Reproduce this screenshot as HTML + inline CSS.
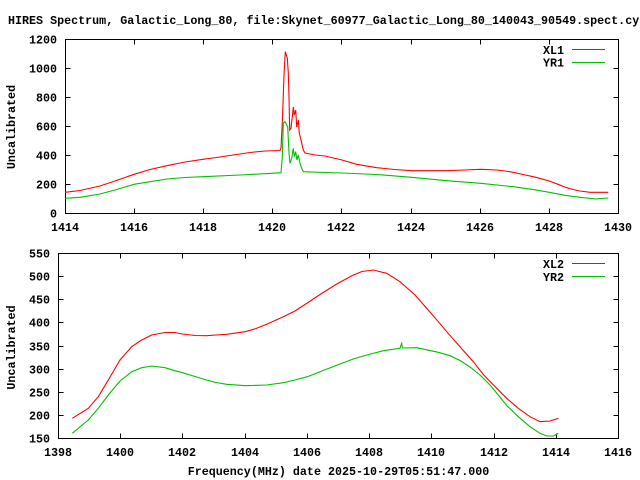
<!DOCTYPE html>
<html><head><meta charset="utf-8"><style>
html,body{margin:0;padding:0;background:#fff;}
svg{display:block;}
text{font-family:"Liberation Mono",monospace;font-weight:bold;font-size:11.7px;fill:#000;}
</style></head><body>
<svg width="640" height="480" viewBox="0 0 640 480" xmlns="http://www.w3.org/2000/svg">
<rect width="640" height="480" fill="#fff"/>
<text x="8" y="24">HIRES Spectrum, Galactic_Long_80, file:Skynet_60977_Galactic_Long_80_140043_90549.spect.cyb</text>

<!-- TOP PLOT -->
<g stroke="#000" stroke-width="1" fill="none" shape-rendering="crispEdges">
<rect x="65.5" y="39.5" width="553" height="174"/>
<path d="M65.5 213.5h5M618.5 213.5h-5M65.5 184.5h5M618.5 184.5h-5M65.5 155.5h5M618.5 155.5h-5M65.5 126.5h5M618.5 126.5h-5M65.5 97.5h5M618.5 97.5h-5M65.5 68.5h5M618.5 68.5h-5M65.5 39.5h5M618.5 39.5h-5"/>
<path d="M65.5 213.5v-5M65.5 39.5v5M134.5 213.5v-5M134.5 39.5v5M203.5 213.5v-5M203.5 39.5v5M272.5 213.5v-5M272.5 39.5v5M341.5 213.5v-5M341.5 39.5v5M411.5 213.5v-5M411.5 39.5v5M480.5 213.5v-5M480.5 39.5v5M549.5 213.5v-5M549.5 39.5v5M618.5 213.5v-5M618.5 39.5v5"/>
</g>
<g text-anchor="end">
<text x="57" y="217.5">0</text>
<text x="57" y="188.5">200</text>
<text x="57" y="159.5">400</text>
<text x="57" y="130.5">600</text>
<text x="57" y="101.5">800</text>
<text x="57" y="72.5">1000</text>
<text x="57" y="43.5">1200</text>
</g>
<g text-anchor="middle">
<text x="65" y="231">1414</text>
<text x="134" y="231">1416</text>
<text x="203" y="231">1418</text>
<text x="272" y="231">1420</text>
<text x="341" y="231">1422</text>
<text x="411" y="231">1424</text>
<text x="480" y="231">1426</text>
<text x="549" y="231">1428</text>
<text x="618" y="231">1430</text>
</g>
<text transform="translate(15,127) rotate(-90)" text-anchor="middle">Uncalibrated</text>
<text x="564" y="54" text-anchor="end">XL1</text>
<text x="564" y="66.5" text-anchor="end">YR1</text>
<line x1="572" y1="49.5" x2="605" y2="49.5" stroke="#ff0000" stroke-width="1"/>
<line x1="572" y1="62.5" x2="605" y2="62.5" stroke="#00c000" stroke-width="1"/>

<polyline fill="none" stroke="#ff0000" stroke-width="1.1" points="65,192.3 80,190.5 100,186 115,181 134,174.3 150,169.5 167,165.7 185,162 203,159.3 220,157 233,155 250,152.5 265,151 280,150.5 281,148 282.3,123 284,75 285.3,51.7 286.3,55 287.3,58 288.3,73 289,97 289.7,130 291,128 292.5,115 293.3,107 294.3,115 295.7,110 296.7,127 298.3,120 299.3,133 301,140 303.3,150 305,153 315,155 325,156 342,160 356.7,164.3 376.7,167.7 395,169.5 411.7,170.7 446.7,170.7 465,170 480.7,169.3 496.7,170 505,171 513.3,172.3 523,174.5 533.3,176.7 541,178.7 549.3,181 558,184.3 566.7,187.7 573,189.5 580,191 590,192.3 608.3,192.3"/>
<polyline fill="none" stroke="#00c000" stroke-width="1.1" points="65,198.3 80,197.3 100,194 115,190 134,184.3 150,181.7 167,179 185,177.5 203,176.7 240,175 272,173.3 281,172.7 282.3,156.7 283.3,123.3 285,121.7 286.7,125 287.7,126.7 289,153 290,163.3 291.7,158.3 293.3,148.3 294.3,156.7 295.7,151.7 297,160 298.3,155 300,163.3 301.7,168.3 303.3,171.7 325,172.5 342,173 376.7,174.5 411.7,177.3 446.7,180.7 480.7,183.3 513.3,186.7 532,189.3 549.3,192.3 565,195.3 580,197.3 596.7,199 600,198.5 608.3,198"/>

<!-- BOTTOM PLOT -->
<g stroke="#000" stroke-width="1" fill="none" shape-rendering="crispEdges">
<rect x="58.5" y="253.5" width="560" height="185"/>
<path d="M58.5 438.5h5M618.5 438.5h-5M58.5 415.5h5M618.5 415.5h-5M58.5 392.5h5M618.5 392.5h-5M58.5 369.5h5M618.5 369.5h-5M58.5 346.5h5M618.5 346.5h-5M58.5 322.5h5M618.5 322.5h-5M58.5 299.5h5M618.5 299.5h-5M58.5 276.5h5M618.5 276.5h-5M58.5 253.5h5M618.5 253.5h-5"/>
<path d="M58.5 438.5v-5M58.5 253.5v5M120.5 438.5v-5M120.5 253.5v5M182.5 438.5v-5M182.5 253.5v5M245.5 438.5v-5M245.5 253.5v5M307.5 438.5v-5M307.5 253.5v5M369.5 438.5v-5M369.5 253.5v5M431.5 438.5v-5M431.5 253.5v5M494.5 438.5v-5M494.5 253.5v5M556.5 438.5v-5M556.5 253.5v5M618.5 438.5v-5M618.5 253.5v5"/>
</g>
<g text-anchor="end">
<text x="50" y="442.5">150</text>
<text x="50" y="419.5">200</text>
<text x="50" y="396.5">250</text>
<text x="50" y="373.5">300</text>
<text x="50" y="350.5">350</text>
<text x="50" y="326.5">400</text>
<text x="50" y="303.5">450</text>
<text x="50" y="280.5">500</text>
<text x="50" y="257.5">550</text>
</g>
<g text-anchor="middle">
<text x="58" y="456">1398</text>
<text x="120" y="456">1400</text>
<text x="182" y="456">1402</text>
<text x="245" y="456">1404</text>
<text x="307" y="456">1406</text>
<text x="369" y="456">1408</text>
<text x="431" y="456">1410</text>
<text x="494" y="456">1412</text>
<text x="556" y="456">1414</text>
<text x="618" y="456">1416</text>
</g>
<text transform="translate(15,347.5) rotate(-90)" text-anchor="middle">Uncalibrated</text>
<text x="338.5" y="475" text-anchor="middle">Frequency(MHz) date 2025-10-29T05:51:47.000</text>
<text x="564" y="268" text-anchor="end">XL2</text>
<text x="564" y="281" text-anchor="end">YR2</text>
<line x1="572" y1="263.5" x2="605" y2="263.5" stroke="#ff0000" stroke-width="1"/>
<line x1="572" y1="276.5" x2="605" y2="276.5" stroke="#00c000" stroke-width="1"/>

<polyline fill="none" stroke="#ff0000" stroke-width="1.1" points="72.3,418.3 88.3,408.3 98.3,396.7 108.3,380 120,360 131.7,346.7 141.7,340 151.7,335 165,332.5 175,332.5 182.3,334 195,335.5 206.7,335.7 216,335 226.7,334.3 245.3,331.7 256,328.5 266.7,324.3 283.3,316.7 295,311 307.3,303 320,294.5 336.7,284 353.3,275 362,271.5 373.3,270 386.7,273.3 400,281.7 415,295 426.7,308.3 438.3,321.7 446.7,331.7 460,346.7 473.3,361.7 483.3,374.5 495,386.5 506.7,398.3 518.3,408.3 530,416.7 540,421.7 550,421 558.3,418.3"/>
<polyline fill="none" stroke="#00c000" stroke-width="1.1" points="72.3,433.3 88.3,420 98.3,408.3 108.3,395 120,381 131.7,371.7 141.7,367.7 151.7,366 165,367.7 175,370.7 182.3,372.7 195,376.5 206.7,380 216,382.5 226.7,384.3 245.3,385.7 266.7,385 283.3,382.7 295,380 307.3,376.7 320,371.7 340,364 353.3,359 366.7,355 383.3,350.7 400,348.3 401,345 401.7,343.3 402.3,348 416.7,347.7 438.3,352.3 450,355.7 460,360.5 470,367 480,375 490,385 495,391 506.7,405.5 518.3,416.7 530,426.7 540,433.3 546.7,436 553.3,436 558.3,433.3"/>
</svg>
</body></html>
